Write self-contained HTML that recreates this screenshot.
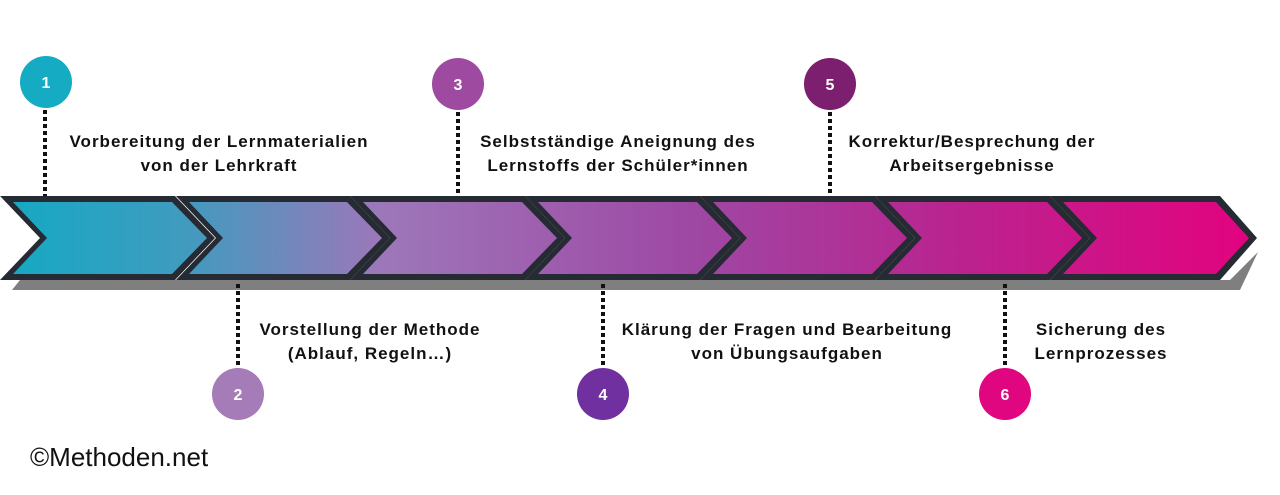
<!DOCTYPE html>
<html><head><meta charset="utf-8"><style>
body{margin:0;background:#fff;width:1280px;height:495px;overflow:hidden}
svg{display:block}
text{font-family:"Liberation Sans",sans-serif}
.t{font-size:17px;font-weight:bold;fill:#111;text-anchor:middle;letter-spacing:1px}
.n{font-size:16px;font-weight:bold;fill:#fff;text-anchor:middle}
.d{stroke:#111;stroke-width:4;stroke-dasharray:4 3}
</style></head><body>
<svg width="1280" height="495" viewBox="0 0 1280 495">
<defs>
<linearGradient id="g" gradientUnits="userSpaceOnUse" x1="10" y1="0" x2="1250" y2="0">
<stop offset="0" stop-color="#15a9c3"/>
<stop offset="0.14" stop-color="#409bbf"/>
<stop offset="0.3" stop-color="#9d77b9"/>
<stop offset="0.55" stop-color="#9e48a4"/>
<stop offset="0.75" stop-color="#b82590"/>
<stop offset="1" stop-color="#e2037f"/>
</linearGradient>
</defs>
<polygon points="12,290 20,280 1230,280 1258,252 1240,290" fill="#7f7f7f"/>
<g fill="#252a33">
<polygon points="0,196 175,196 215,238 175,280 0,280 40,238"/>
<polygon points="176,196 350,196 390,238 350,280 176,280 216,238"/>
<polygon points="350,196 525,196 565,238 525,280 350,280 390,238"/>
<polygon points="525,196 700,196 740,238 700,280 525,280 565,238"/>
<polygon points="700,196 875,196 915,238 875,280 700,280 740,238"/>
<polygon points="875,196 1050,196 1090,238 1050,280 875,280 915,238"/>
<polygon points="1050,196 1220,196 1257,238 1220,280 1050,280 1090,238"/>
</g>
<g fill="url(#g)">
<polygon points="13,202 172,202 207,238 172,274 13,274 47,238"/>
<polygon points="189,202 347,202 382,238 347,274 189,274 223,238"/>
<polygon points="363,202 522,202 557,238 522,274 363,274 397,238"/>
<polygon points="538,202 697,202 732,238 697,274 538,274 572,238"/>
<polygon points="713,202 872,202 907,238 872,274 713,274 747,238"/>
<polygon points="888,202 1047,202 1082,238 1047,274 888,274 922,238"/>
<polygon points="1063,202 1216,202 1249,238 1216,274 1063,274 1097,238"/>
</g>
<line class="d" x1="45" y1="110" x2="45" y2="196"/>
<line class="d" x1="458" y1="112" x2="458" y2="196"/>
<line class="d" x1="830" y1="112" x2="830" y2="196"/>
<line class="d" x1="238" y1="284" x2="238" y2="368"/>
<line class="d" x1="603" y1="284" x2="603" y2="368"/>
<line class="d" x1="1005" y1="284" x2="1005" y2="368"/>
<circle cx="46" cy="82" r="26" fill="#14abc3"/><text class="n" x="46" y="88">1</text>
<circle cx="238" cy="394" r="26" fill="#a57bb8"/><text class="n" x="238" y="400">2</text>
<circle cx="458" cy="84" r="26" fill="#9e4aa0"/><text class="n" x="458" y="90">3</text>
<circle cx="603" cy="394" r="26" fill="#7030a0"/><text class="n" x="603" y="400">4</text>
<circle cx="830" cy="84" r="26" fill="#7b1f6e"/><text class="n" x="830" y="90">5</text>
<circle cx="1005" cy="394" r="26" fill="#e0067f"/><text class="n" x="1005" y="400">6</text>
<text class="t" x="219" y="147">Vorbereitung der Lernmaterialien</text>
<text class="t" x="219" y="171">von der Lehrkraft</text>
<text class="t" x="618" y="147">Selbstständige Aneignung des</text>
<text class="t" x="618" y="171">Lernstoffs der Schüler*innen</text>
<text class="t" x="972" y="147">Korrektur/Besprechung der</text>
<text class="t" x="972" y="171">Arbeitsergebnisse</text>
<text class="t" x="370" y="335">Vorstellung der Methode</text>
<text class="t" x="370" y="359">(Ablauf, Regeln…)</text>
<text class="t" x="787" y="335">Klärung der Fragen und Bearbeitung</text>
<text class="t" x="787" y="359">von Übungsaufgaben</text>
<text class="t" x="1101" y="335">Sicherung des</text>
<text class="t" x="1101" y="359">Lernprozesses</text>
<text x="30" y="466" style="font-size:26px;fill:#111">©Methoden.net</text>
</svg>
</body></html>
